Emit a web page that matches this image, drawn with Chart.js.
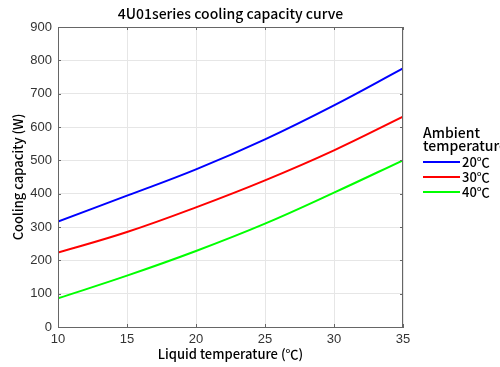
<!DOCTYPE html>
<html>
<head>
<meta charset="utf-8">
<script src="https://cdn.jsdelivr.net/npm/chart.js@4"></script>
<style>
  body { margin: 0; background: #fff; }
  #wrap { width: 500px; height: 367px; }
</style>
</head>
<body>
<div id="wrap"><canvas id="capacity-chart" width="500" height="367"></canvas></div>
<script>
// data
let liquidTemps = [10, 15, 20, 25, 30, 35];
let ambient20 = [316, 394, 473, 563, 665, 776];
let ambient30 = [223, 285, 359, 440, 530, 631];
let ambient40 = [86, 154, 228, 310, 403, 500];
let yTicks = [0, 100, 200, 300, 400, 500, 600, 700, 800, 900];
let seriesNames = ['20\u2103', '30\u2103', '40\u2103'];
let lineColors = ['#0000ff', '#ff0000', '#00ff00'];
let chartTitle = '4U01series cooling capacity curve';

let cjkFont = '"Noto Sans CJK SC", "Noto Sans", sans-serif';

function toPoints(vals) {
	return liquidTemps.map(function(t, i) { return { x: t, y: vals[i] }; });
}

// title over the plot, box, inner ticks and legend (matlab style)
let boxPlugin = {
	id: 'boxPlugin',
	afterDatasetsDraw(chart) {
		let ctx = chart.ctx;
		let a = chart.chartArea;
		let xs = chart.scales.x, ys = chart.scales.y;
		ctx.save();

		ctx.fillStyle = '#000';
		ctx.font = '500 14px ' + cjkFont;
		ctx.textAlign = 'center';
		ctx.textBaseline = 'middle';
		ctx.fillText(chartTitle, (a.left + a.right) / 2, 14);

		ctx.strokeStyle = '#666';
		ctx.lineWidth = 1;
		ctx.strokeRect(a.left + 0.5, a.top + 0.5, a.right - a.left - 1, a.bottom - a.top);
		ctx.beginPath();
		liquidTemps.forEach(function(t) {
			let px = Math.round(xs.getPixelForValue(t)) + 0.5;
			ctx.moveTo(px, a.bottom); ctx.lineTo(px, a.bottom - 3);
			ctx.moveTo(px, a.top); ctx.lineTo(px, a.top + 3);
		});
		yTicks.forEach(function(v) {
			let py = Math.round(ys.getPixelForValue(v)) + 0.5;
			ctx.moveTo(a.left, py); ctx.lineTo(a.left + 3, py);
			ctx.moveTo(a.right, py); ctx.lineTo(a.right - 3, py);
		});
		ctx.stroke();

		// legend
		ctx.textAlign = 'left';
		ctx.font = '500 14px ' + cjkFont;
		ctx.fillText('Ambient', 423, 133);
		ctx.fillText('temperature', 423, 146);
		ctx.font = '500 13px ' + cjkFont;
		chart.data.datasets.forEach(function(ds, i) {
			let y = 162 + i * 15;
			ctx.strokeStyle = ds.borderColor;
			ctx.lineWidth = 2;
			ctx.beginPath();
			ctx.moveTo(423, y); ctx.lineTo(460, y);
			ctx.stroke();
			ctx.fillText(ds.label, 462, y);
		});
		ctx.restore();
	}
};

let contex = document.querySelector('#capacity-chart').getContext('2d');

let capacityChart = new Chart(contex, {
	type: 'line',
	data: {
		datasets: [
			{ label: seriesNames[0], data: toPoints(ambient20), borderColor: lineColors[0] },
			{ label: seriesNames[1], data: toPoints(ambient30), borderColor: lineColors[1] },
			{ label: seriesNames[2], data: toPoints(ambient40), borderColor: lineColors[2] }
		]
	},
	options: {
		responsive: false,
		animation: false,
		layout: { padding: { left: 0, right: 97, top: 27, bottom: 0 } },
		elements: {
			point: { radius: 0 },
			line: { borderWidth: 2, tension: 0.4 }
		},
		plugins: {
			legend: { display: false },
			tooltip: { enabled: false },
			title: { display: false }
		},
		scales: {
			x: {
				type: 'linear',
				min: 10,
				max: 35,
				afterFit(scale) { scale.height = 40; },
				afterBuildTicks(scale) { scale.ticks = liquidTemps.map(function(v) { return { value: v }; }); },
				grid: { color: '#e6e6e6', drawTicks: false },
				border: { color: '#666' },
				ticks: { color: '#333', padding: 5, font: { family: '"Liberation Sans", Arial, sans-serif', size: 13 } },
				title: {
					display: true,
					text: 'Liquid temperature (\u2103)',
					color: '#000',
					padding: { top: 0, bottom: 5 },
					font: { family: cjkFont, size: 13, weight: '500' }
				}
			},
			y: {
				min: 0,
				max: 900,
				afterFit(scale) { scale.width = 58; },
				afterBuildTicks(scale) { scale.ticks = yTicks.map(function(v) { return { value: v }; }); },
				grid: { color: '#e6e6e6', drawTicks: false },
				border: { color: '#666' },
				ticks: { color: '#333', padding: 6, font: { family: '"Liberation Sans", Arial, sans-serif', size: 13 } },
				title: {
					display: true,
					text: 'Cooling capacity (W)',
					color: '#000',
					padding: { top: 10, bottom: 0 },
					font: { family: cjkFont, size: 13, weight: '500' }
				}
			}
		}
	},
	plugins: [boxPlugin]
});
</script>
</body>
</html>
